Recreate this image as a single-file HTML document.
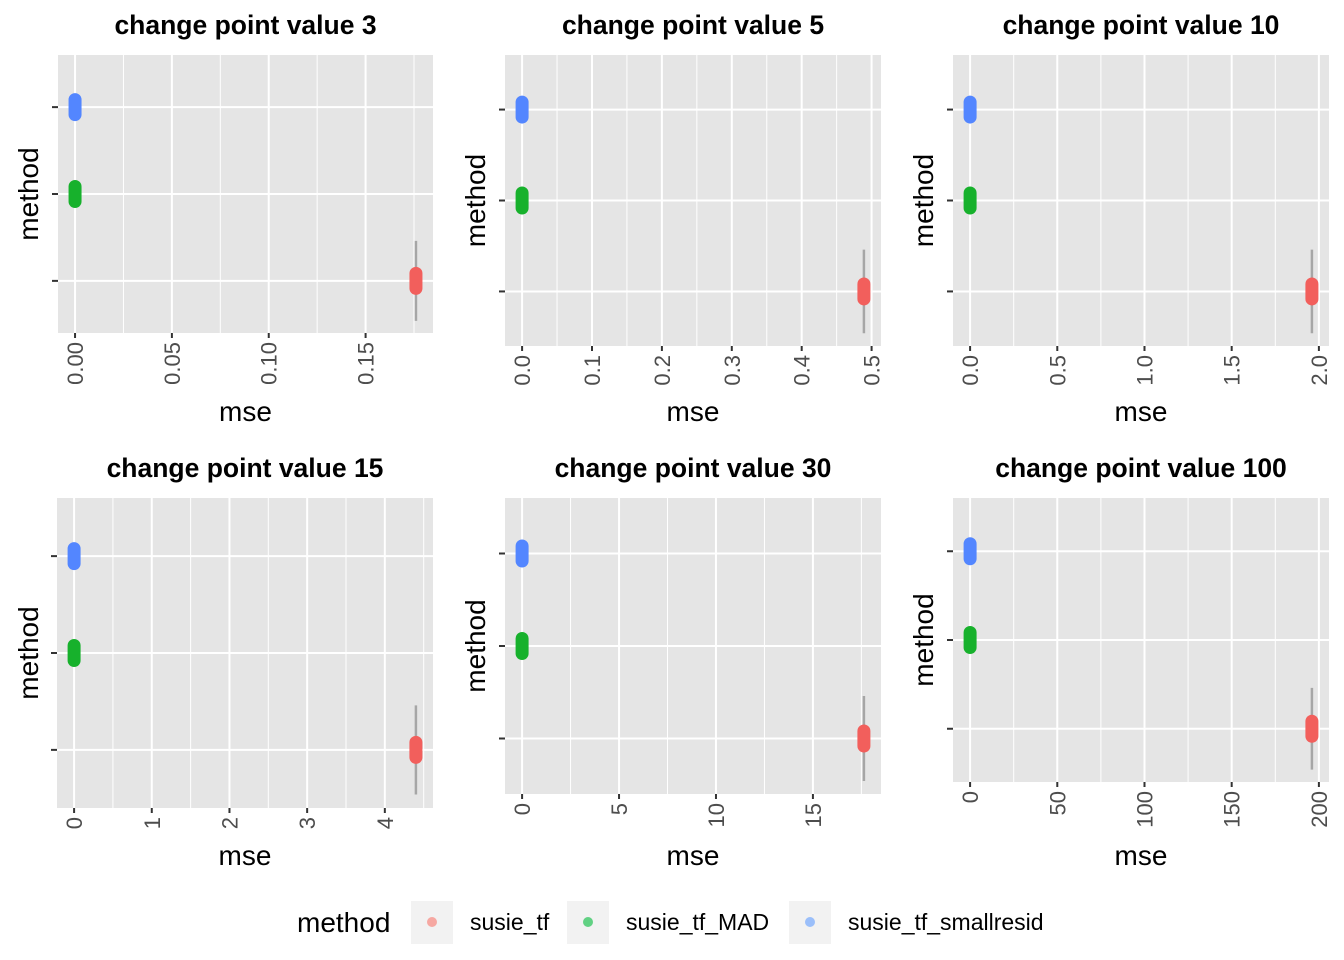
<!DOCTYPE html>
<html><head><meta charset="utf-8"><style>
html,body{margin:0;padding:0;background:#fff;}
svg{display:block;font-family:"Liberation Sans",Arial,sans-serif;}
</style></head><body>
<svg id="chart" width="1344" height="960" viewBox="0 0 1344 960"></svg>
<script>
const panelTitles = ["change point value 3","change point value 5","change point value 10","change point value 15","change point value 30","change point value 100"];
const methods = ["susie_tf","susie_tf_MAD","susie_tf_smallresid"];
const methodColors = ["#F8766D","#00BA38","#619CFF"];
const pillColors = ["#F25F5C","#17B12C","#5386FF"];
const valsSusieTf = [0.176, 0.489, 1.96, 4.40, 17.63, 196];
const valsSusieTfMAD = [0, 0, 0, 0, 0, 0];
const valsSusieTfSmallresid = [0, 0, 0, 0, 0, 0];
const spreadSusieTf = [0.46, 0.46, 0.46, 0.46, 0.46, 0.46];
const tickLabels = [
  ["0.00","0.05","0.10","0.15"],
  ["0.0","0.1","0.2","0.3","0.4","0.5"],
  ["0.0","0.5","1.0","1.5","2.0"],
  ["0","1","2","3","4"],
  ["0","5","10","15"],
  ["0","50","100","150","200"]
];
const minorStep = [0.025,0.05,0.25,0.5,2.5,25];

const rects = [
  {x0:58,x1:433,y0:55,y1:333,mx:28,my:411},
  {x0:505,x1:881,y0:55,y1:346,mx:475,my:411},
  {x0:953,x1:1329,y0:55,y1:346,mx:923,my:411},
  {x0:57,x1:433,y0:498,y1:808,mx:28,my:855},
  {x0:505,x1:881,y0:498,y1:794,mx:475,my:855},
  {x0:953,x1:1329,y0:498,y1:782,mx:923,my:855}
];
const NS="http://www.w3.org/2000/svg";
const svg=document.getElementById('chart');
function mk(tag,attrs,parent){const e=document.createElementNS(NS,tag);for(const k in attrs)e.setAttribute(k,attrs[k]);(parent||svg).appendChild(e);return e;}

rects.forEach((r,i)=>{
  const g=mk('g',{});
  
  
  const all=[valsSusieTf[i],valsSusieTfMAD[i],valsSusieTfSmallresid[i]];
  const lo=Math.min(...all), hi=Math.max(...all), rng=hi-lo;
  const d0=lo-0.05*rng, d1=hi+0.05*rng;
  const xs=v=>r.x0+(v-d0)/(d1-d0)*(r.x1-r.x0);
  const ys=c=>r.y1-(c-0.4)/3.2*(r.y1-r.y0);
  const bg=mk('rect',{x:r.x0,y:r.y0,width:r.x1-r.x0,height:r.y1-r.y0,fill:'#E5E5E5'},g);
  
  
  const ms=minorStep[i];
  for(let v=Math.ceil(d0/ms)*ms; v<=d1; v+=ms){
    const k=Math.round(v/ms);
    if(k%2!==0){const x=xs(v);mk('line',{x1:x,x2:x,y1:r.y0,y2:r.y1,stroke:'#fff','stroke-width':1},g);}
  }
  tickLabels[i].forEach(t=>{
    const x=xs(parseFloat(t));
    mk('line',{x1:x,x2:x,y1:r.y0,y2:r.y1,stroke:'#fff','stroke-width':2},g);
    mk('line',{x1:x,x2:x,y1:r.y1,y2:r.y1+5,stroke:'#333','stroke-width':2},g);
    const tl=mk('text',{x:0,y:0,transform:`translate(${x+8},${r.y1+9}) rotate(-90)`,'text-anchor':'end','font-size':22,fill:'#4D4D4D'},g);
    tl.textContent=t;
    
    
  });
  [1,2,3].forEach(c=>{
    const y=ys(c);
    mk('line',{x1:r.x0,x2:r.x1,y1:y,y2:y,stroke:'#fff','stroke-width':2},g);
    mk('line',{x1:r.x0-6,x2:r.x0,y1:y,y2:y,stroke:'#333','stroke-width':2},g);
  });
  const xr=xs(valsSusieTf[i]);
  const wl=mk('line',{x1:xr,x2:xr,y1:ys(1+spreadSusieTf[i]),y2:ys(1-spreadSusieTf[i]),stroke:'#A6A6A6','stroke-width':2.5},g);
  
  
  const seriesVals=[valsSusieTf,valsSusieTfMAD,valsSusieTfSmallresid];
  seriesVals.forEach((arr,m)=>{
    const x=xs(arr[i]), y=ys(m+1);
    const p=mk('rect',{x:x-6.5,y:y-14,width:13,height:28,rx:6.5,ry:6.5,fill:pillColors[m]},g);
    
    
  });
  const title=mk('text',{x:(r.x0+r.x1)/2,y:i<3?34:477,'text-anchor':'middle','font-size':26.5,'font-weight':'bold',fill:'#000'},g);
  title.textContent=panelTitles[i];
  
  
  const xt=mk('text',{x:(r.x0+r.x1)/2,y:r.my+10,'text-anchor':'middle','font-size':28,fill:'#000'},g);
  xt.textContent='mse';
  
  
  const yt=mk('text',{x:0,y:0,transform:`translate(${r.mx+10},${(r.y0+r.y1)/2}) rotate(-90)`,'text-anchor':'middle','font-size':28,fill:'#000'},g);
  yt.textContent='method';
  
  
});

const lg=mk('g',{});


const lt=mk('text',{x:297,y:932,'font-size':28,fill:'#000'},lg);
lt.textContent='method';


const keyX=[411,567,789];
methods.forEach((m,k)=>{
  const e=mk('g',{},lg);
  
  
  mk('rect',{x:keyX[k],y:901,width:42,height:43,fill:'#F2F2F2'},e);
  mk('circle',{cx:keyX[k]+21,cy:922,r:5,fill:methodColors[k],'fill-opacity':0.6},e);
  const t=mk('text',{x:keyX[k]+59,y:930,'font-size':23,fill:'#000'},e);
  t.textContent=m;
});
</script>
</body></html>
